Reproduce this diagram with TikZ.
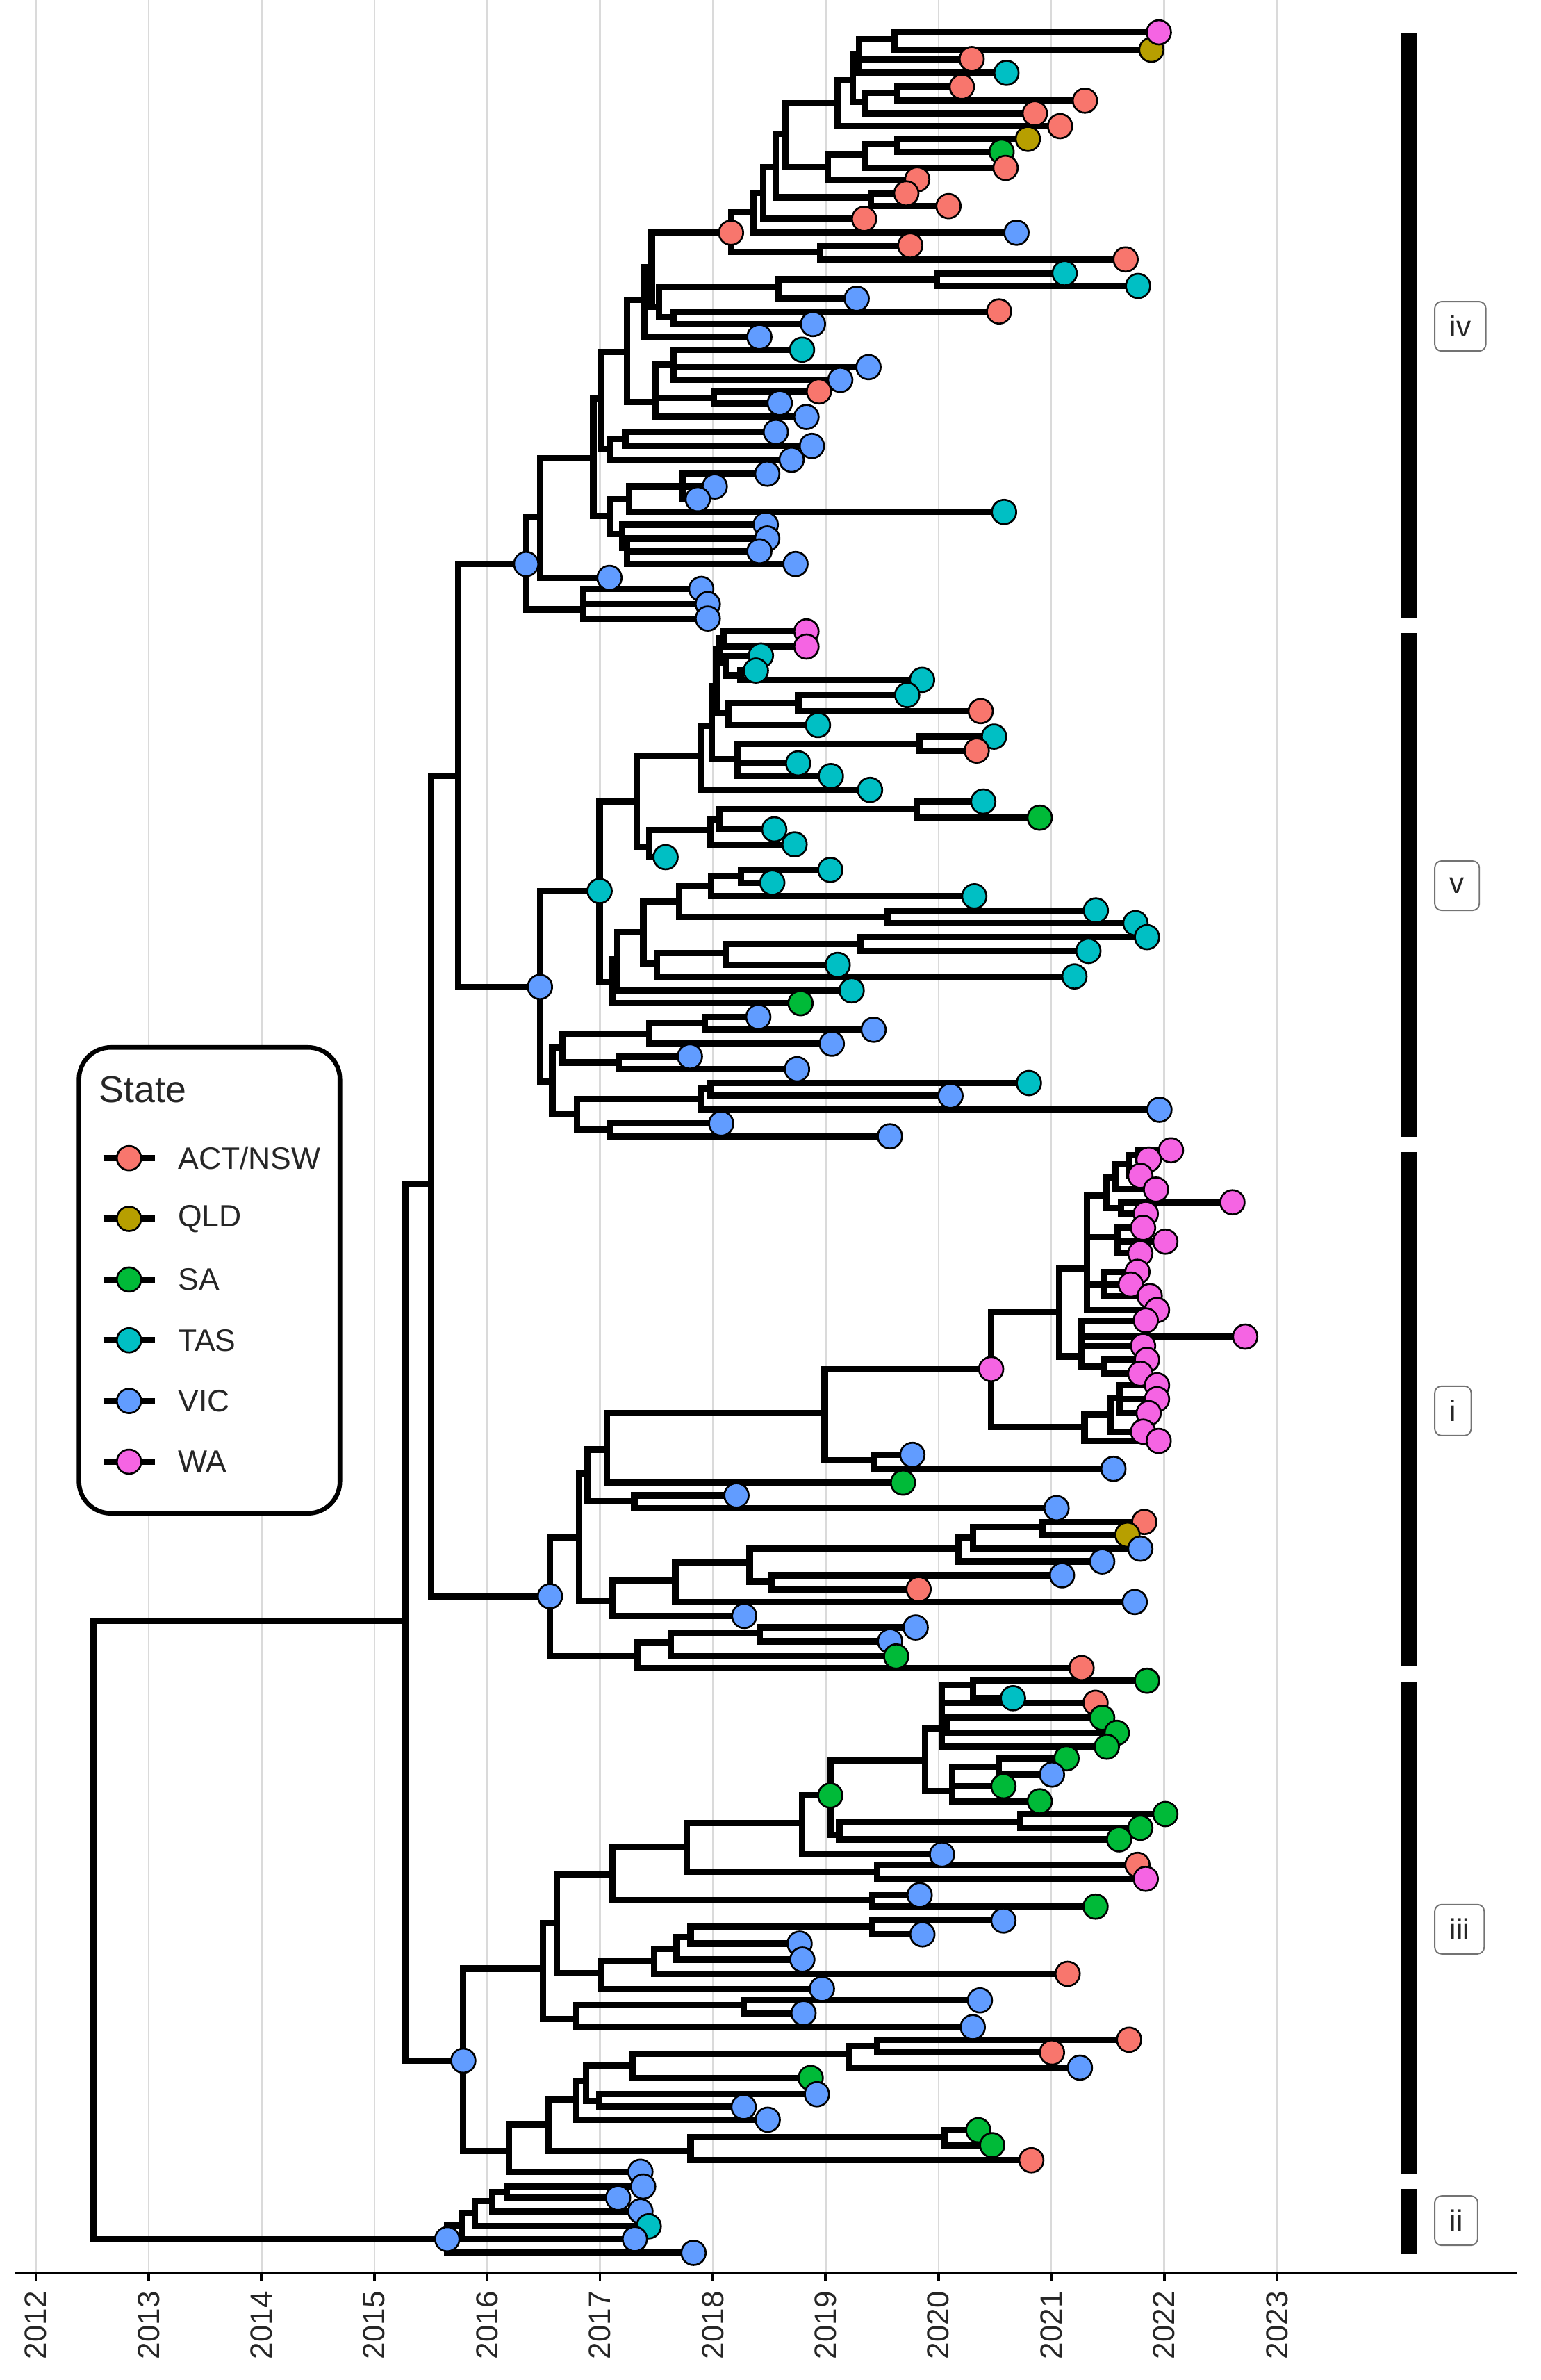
\documentclass[tikz,border=0pt]{standalone}
\usepackage{fontspec}
\setmainfont{Liberation Sans}
\pgfdeclarelayer{front}
\pgfsetlayers{main,front}
\definecolor{cACT}{HTML}{F8766D}
\definecolor{cQLD}{HTML}{B79F00}
\definecolor{cSA}{HTML}{00BA38}
\definecolor{cTAS}{HTML}{00BFC4}
\definecolor{cVIC}{HTML}{619CFF}
\definecolor{cWA}{HTML}{F564E3}
\definecolor{gridc}{HTML}{DADADA}
\tikzset{
  br/.style={line width=2.4pt, black},
  dot/.style={circle, draw=black, line width=0.7pt, minimum size=0.32cm, inner sep=0pt},
  gridl/.style={draw=gridc, line width=0.6pt},
  axisl/.style={line width=1pt, black},
  yearlab/.style={rotate=90, anchor=east, inner sep=0pt, text=black!85, font=\fontsize{11.5}{13}\selectfont},
  legtext/.style={anchor=west, inner sep=0pt, text=black!85, font=\fontsize{11.6}{14}\selectfont},
  cladelab/.style={anchor=west, draw=black!55, line width=0.5pt, rounded corners=2.5pt, inner xsep=5.6pt, inner ysep=0pt, minimum height=18.5pt, text=black!85, font=\fontsize{11}{13}\selectfont},
}
\newcommand\trn[4]{\coordinate (#1) at (#3,-#4); \draw[br] (#2) |- (#1);}
\newcommand\trt[5]{\coordinate (#1) at (#3,-#4); \draw[br] (#2) |- (#1); \begin{pgfonlayer}{front}\node[dot,fill=#5] (#1d) at (#1) {};\end{pgfonlayer}}
\newcommand\legitem[4]{\draw[br] (68,-#4) -- (102,-#4); \node[dot,fill=#2] (lk#1) at (85,-#4) {}; \node[legtext] (ll#1) at (117,-#4) {#3};}
\begin{document}
\begin{tikzpicture}[x=0.02cm, y=0.02cm]
\useasboundingbox (0,0) rectangle (1015,-1568);
% grid, axis, years
\foreach \yr [count=\k from 0] in {2012,...,2023}{
  \pgfmathsetmacro\gx{23.6+74.35*\k}
  \draw[gridl] (\gx,0) -- (\gx,-1497.5);
  \draw[axisl] (\gx,-1497.5) -- (\gx,-1503);
  \node[yearlab] (yl\yr) at (\gx,-1509) {\yr};
}
\draw[axisl] (10,-1497.5) -- (1000,-1497.5);
% ---------------- tree ----------------
\coordinate (root) at (61.6,-1270);
\trn{q4}{root}{267}{1068}
\trn{q3}{q4}{283.9}{780}
\trn{q2}{q3}{301.9}{511.3}
% clade iv
\trt{ivB}{q2}{346.7}{371.6}{cVIC}
\trn{ivA}{ivB}{355.8}{341}
\trn{xx}{ivA}{391}{302}
\trn{xX}{xx}{396}{262.5}
\trn{vV}{xX}{413}{232}
\trn{p2}{vV}{424.5}{197.6}
\trn{pP}{p2}{429.4}{176}
\trt{nN}{pP}{481.7}{153.3}{cACT}
\trn{mM}{nN}{496.5}{140}
\trn{lL}{mM}{503}{127}
\trn{k2}{lL}{511.2}{110}
\trn{k1}{k2}{517.7}{88}
\trn{gG}{k1}{552}{68}
\trn{fF}{gG}{561.9}{53}
\trn{bB}{fF}{566}{36}
\trn{aA}{bB}{589.6}{26}
\trt{t2}{aA}{758.7}{32.8}{cQLD}
\trt{t1}{aA}{763.6}{21.3}{cWA}
\trt{t3}{bB}{640.3}{38.9}{cACT}
\trt{t4}{bB}{663.2}{48}{cTAS}
\trn{eE}{fF}{570}{67}
\trn{dD}{eE}{591.3}{61}
\trt{t5}{dD}{633.8}{57.2}{cACT}
\trt{t6}{dD}{714.9}{66.3}{cACT}
\trt{t7}{eE}{681.9}{74.7}{cACT}
\trt{t8}{gG}{698.5}{83.1}{cACT}
\trn{h3}{k1}{545.5}{110}
\trn{h2}{h3}{570}{102}
\trn{h1}{h2}{591.3}{95}
\trt{t9}{h1}{677.3}{91.5}{cQLD}
\trt{t10}{h1}{660}{100}{cSA}
\trt{t11}{h2}{662.6}{110.6}{cACT}
\trt{t12}{h3}{604.4}{118.2}{cACT}
\trn{i1}{k2}{574}{130}
\trt{t13}{i1}{597.2}{127.4}{cACT}
\trt{t14}{i1}{625}{135.8}{cACT}
\trt{t15}{lL}{569.4}{144.2}{cACT}
\trt{t16}{mM}{669.8}{153.3}{cVIC}
\trn{oO}{nN}{540.6}{166}
\trt{t17}{oO}{599.8}{161.7}{cACT}
\trt{t18}{oO}{741.7}{170.9}{cACT}
\trn{tT}{pP}{434.3}{202}
\trn{sS}{tT}{512.8}{189}
\trn{rR}{sS}{617.4}{184}
\trt{t19}{rR}{701.5}{180}{cTAS}
\trt{t20}{rR}{749.9}{188.4}{cTAS}
\trt{t21}{sS}{564.5}{196.8}{cVIC}
\trn{uU}{tT}{444}{209}
\trt{t22}{uU}{658.3}{205.2}{cACT}
\trt{t23}{uU}{535.7}{213.5}{cVIC}
\trt{t24}{p2}{500.4}{222}{cVIC}
\trn{w4}{vV}{432}{264.8}
\trn{w1}{w4}{444}{240}
\trt{t25}{w1}{528.5}{230.4}{cTAS}
\trt{t26}{w1}{572.3}{241.9}{cVIC}
\trt{t27}{w1}{553.7}{250.3}{cVIC}
\trn{w3}{w4}{470.3}{262}
\trt{t28}{w3}{539.6}{257.9}{cACT}
\trt{t29}{w3}{513.8}{265.5}{cVIC}
\trt{t30}{w4}{531.4}{274.7}{cVIC}
\trn{y2}{xX}{401.6}{296}
\trn{y1}{y2}{412}{289}
\trt{t31}{y1}{511.2}{284.6}{cVIC}
\trt{t32}{y1}{535}{293.8}{cVIC}
\trt{t33}{y2}{521.6}{302.9}{cVIC}
\trn{z3}{xx}{401.6}{340}
\trn{z2}{z3}{414.6}{328.9}
\trn{z1}{z2}{450}{320.5}
\trt{t34}{z1}{505.6}{312.1}{cVIC}
\trt{t35}{z1}{471}{320.5}{cVIC}
\trt{t36}{z1}{459.8}{328.9}{cVIC}
\trt{t37}{z2}{661.6}{337.3}{cTAS}
\trn{z4}{z3}{410}{352}
\trt{t38}{z4}{504.6}{345.6}{cVIC}
\trn{z5}{z4}{413}{361}
\trt{t39}{z5}{505.6}{354.8}{cVIC}
\trt{t40}{z5}{500.4}{363.2}{cVIC}
\trt{t41}{z5}{524.2}{371.6}{cVIC}
\trt{t42}{ivA}{401.6}{380.7}{cVIC}
\trn{ivC}{ivB}{384.5}{401.5}
\trt{t43}{ivC}{462.1}{388}{cVIC}
\trt{t44}{ivC}{466.4}{398}{cVIC}
\trt{t45}{ivC}{466.4}{407.5}{cVIC}
% clade v
\trt{vR}{q2}{355.8}{650.2}{cVIC}
\trt{a13}{vR}{395.1}{587}{cTAS}
\trn{a12}{a13}{419.6}{528}
\trn{a11}{a12}{462}{498}
\trn{a9}{a11}{469}{478}
\trn{a10}{a9}{472}{452}
\trn{a8}{a10}{474}{428}
\trn{a5}{a8}{477}{420.5}
\trt{t46}{a5}{531.4}{416}{cWA}
\trt{t47}{a5}{531.4}{426}{cWA}
\trn{a6}{a8}{478}{437}
\trt{t48}{a6}{501.4}{431.9}{cTAS}
\trn{a6b}{a6}{488}{445}
\trt{t49}{a6b}{498.1}{441.8}{cTAS}
\trt{t50}{a6b}{607.6}{447.9}{cTAS}
\trn{a4}{a10}{480}{470}
\trn{a3}{a4}{526}{463}
\trt{t51}{a3}{597.8}{457.9}{cTAS}
\trt{t52}{a3}{646.2}{468.5}{cACT}
\trt{t53}{a4}{539}{477.7}{cTAS}
\trn{a2}{a9}{486}{500}
\trn{a1}{a2}{606}{490}
\trt{t54}{a1}{655}{485.3}{cTAS}
\trt{t55}{a1}{643.6}{494.5}{cACT}
\trt{t56}{a2}{525.9}{502.9}{cTAS}
\trt{t57}{a2}{547.5}{511.3}{cTAS}
\trt{t58}{a11}{573.3}{520.4}{cTAS}
\trn{b4}{a12}{427.8}{558}
\trn{b1}{b4}{468}{547}
\trn{b3}{b1}{474}{540}
\trn{b2}{b3}{604}{533}
\trt{t59}{b2}{647.9}{528.1}{cTAS}
\trt{t60}{b2}{685.1}{538.7}{cSA}
\trt{t61}{b3}{510.2}{546.4}{cTAS}
\trt{t62}{b1}{523.6}{556.3}{cTAS}
\trt{t63}{b4}{438.6}{564.7}{cTAS}
\trn{c10}{a13}{403.6}{647}
\trn{c9}{c10}{406.9}{632}
\trn{c8}{c9}{423.9}{614}
\trn{c4}{c8}{447.4}{594}
\trn{c2}{c4}{468.6}{584}
\trn{c1}{c2}{488.4}{577}
\trt{t64}{c1}{547.1}{573.1}{cTAS}
\trt{t65}{c1}{508.9}{581.5}{cTAS}
\trt{t66}{c2}{642}{590.5}{cTAS}
\trn{c3}{c4}{584.7}{604}
\trt{t67}{c3}{722.1}{599.8}{cTAS}
\trt{t68}{c3}{748.2}{608.2}{cTAS}
\trn{c7}{c8}{433}{635}
\trn{c6}{c7}{478.2}{628}
\trn{c5}{c6}{566.8}{622}
\trt{t69}{c5}{755.8}{617.4}{cTAS}
\trt{t70}{c5}{717.2}{626.5}{cTAS}
\trt{t71}{c6}{552}{635.7}{cTAS}
\trt{t72}{c7}{708}{643.3}{cTAS}
\trt{t73}{c9}{561.2}{652.5}{cTAS}
\trt{t74}{c10}{527.5}{660.9}{cSA}
\trn{d5}{vR}{364}{712.8}
\trn{d4}{d5}{370.6}{690}
\trn{d2}{d4}{427.8}{681}
\trn{d1}{d2}{464.4}{674}
\trt{t75}{d1}{499.7}{670}{cVIC}
\trt{t76}{d1}{575.6}{678.4}{cVIC}
\trt{t77}{d2}{548.1}{687.6}{cVIC}
\trn{d3}{d4}{407.6}{700}
\trt{t78}{d3}{454.6}{696}{cVIC}
\trt{t79}{d3}{525.2}{704.4}{cVIC}
\trn{d6}{d5}{380.3}{734}
\trn{d8}{d6}{461.8}{724}
\trn{d7}{d8}{467.9}{717}
\trt{t80}{d7}{678}{713.5}{cTAS}
\trt{t81}{d7}{626.3}{721.9}{cVIC}
\trt{t82}{d8}{764}{731.1}{cVIC}
\trn{d9}{d6}{401.6}{744}
\trt{t83}{d9}{475.2}{740.2}{cVIC}
\trt{t84}{d9}{586.4}{748.6}{cVIC}
% clade i
\trt{iR}{q3}{362.4}{1051.6}{cVIC}
\trn{ig}{iR}{381.5}{1012.7}
\trn{iff}{ig}{387}{971}
\trn{id}{iff}{400}{955}
\trn{ia}{id}{543.4}{931}
\trt{waR}{ia}{653.1}{902}{cWA}
\trn{wu}{waR}{698}{864.6}
\trn{wu1}{wu}{716.4}{835.6}
\trn{x1}{wu1}{729.3}{787.5}
\trn{x1a}{x1}{734.8}{776}
\trn{x1c}{x1a}{744}{767}
\trn{x1d}{x1c}{749.5}{761}
\trt{t85}{x1d}{771.6}{757.8}{cWA}
\trt{t86}{x1d}{756.9}{763.9}{cWA}
\trt{t87}{x1c}{751.4}{774.6}{cWA}
\trt{t88}{x1a}{761.7}{783.7}{cWA}
\trn{x1b}{x1}{738.6}{796}
\trt{t89}{x1b}{812.1}{792.1}{cWA}
\trt{t90}{x1b}{755}{799.7}{cWA}
\trn{x2}{wu1}{736.6}{815}
\trt{t91}{x2}{753.2}{808.9}{cWA}
\trt{t92}{x2}{767.9}{818}{cWA}
\trt{t93}{x2}{751.4}{825.7}{cWA}
\trn{x3}{wu1}{727.4}{846}
\trt{t94}{x3}{749.5}{837.9}{cWA}
\trt{t95}{x3}{745.1}{846.3}{cWA}
\trt{t96}{x3}{757.6}{853.9}{cWA}
\trt{t97}{wu1}{762.4}{863.1}{cWA}
\trn{wu2}{wu}{712.7}{893.6}
\trt{t98}{wu2}{755}{869.9}{cWA}
\trt{t99}{wu2}{820.5}{880.6}{cWA}
\trt{t100}{wu2}{753.2}{886.7}{cWA}
\trn{yy1}{wu2}{727.4}{900}
\trt{t101}{yy1}{755.8}{895.9}{cWA}
\trt{t102}{yy1}{751.4}{905}{cWA}
\trn{wl}{waR}{714.6}{940}
\trn{yy2}{wl}{732}{932}
\trn{yy4}{yy2}{738}{921}
\trt{t103}{yy4}{762.4}{912.7}{cWA}
\trt{t104}{yy4}{762.4}{921.8}{cWA}
\trt{t105}{yy4}{756.9}{931}{cWA}
\trt{t106}{yy2}{753.2}{943.2}{cWA}
\trt{t107}{wl}{763.5}{949.3}{cWA}
\trn{ib}{ia}{576}{962}
\trt{t108}{ib}{601.2}{958.5}{cVIC}
\trt{t109}{ib}{733.7}{967.7}{cVIC}
\trt{t110}{id}{595}{976.8}{cSA}
\trn{ie}{iff}{418}{989}
\trt{t111}{ie}{485.3}{985.2}{cVIC}
\trt{t112}{ie}{696.2}{993.6}{cVIC}
\trn{ih}{ig}{403.6}{1054.6}
\trn{ii}{ih}{445}{1041}
\trn{ik}{ii}{494}{1029.5}
\trn{il}{ik}{631.8}{1020}
\trn{inn}{il}{641}{1013}
\trn{io}{inn}{687}{1006}
\trt{t113}{io}{754}{1002.7}{cACT}
\trt{t114}{io}{742.9}{1011.1}{cQLD}
\trt{t115}{inn}{751.4}{1020.3}{cVIC}
\trt{t116}{il}{726.3}{1028.7}{cVIC}
\trn{im}{ik}{508.6}{1042}
\trt{t117}{im}{699.8}{1037.8}{cVIC}
\trt{t118}{im}{605.3}{1047}{cACT}
\trt{t119}{ii}{747.7}{1055.4}{cVIC}
\trt{t120}{ih}{490.4}{1064.6}{cVIC}
\trn{ij}{iR}{420}{1091.3}
\trn{ip}{ij}{442}{1082}
\trn{iq}{ip}{500.6}{1075.5}
\trt{t121}{iq}{603.4}{1072.2}{cVIC}
\trt{t122}{iq}{586.5}{1081.3}{cVIC}
\trt{t123}{ip}{590.5}{1091.3}{cSA}
\trt{t124}{ij}{712.7}{1098.9}{cACT}
% clade iii
\trt{iiiR}{q4}{305.3}{1357.6}{cVIC}
\trn{kz}{iiiR}{357.6}{1297}
\trn{jo}{kz}{366.8}{1266.8}
\trn{jm}{jo}{403.6}{1234.7}
\trn{jk}{jm}{452.7}{1217.2}
\trn{jj}{jk}{528.5}{1201}
\trt{jg}{jj}{547.1}{1182.9}{cSA}
\trn{jd}{jg}{609.7}{1160}
\trn{jb}{jd}{620.7}{1138.6}
\trn{ja}{jb}{641}{1110}
\trt{t125}{ja}{755.8}{1107.3}{cSA}
\trt{t126}{ja}{667.5}{1118.8}{cTAS}
\trt{t127}{jb}{721.9}{1121.8}{cACT}
\trn{jc}{jb}{624}{1137}
\trt{t128}{jc}{726.3}{1131.7}{cSA}
\trt{t129}{jc}{735.9}{1141.6}{cSA}
\trt{t130}{jb}{729.3}{1150.8}{cSA}
\trn{je}{jd}{627.3}{1180}
\trn{jf}{je}{658}{1164}
\trt{t131}{jf}{702.8}{1158.4}{cSA}
\trt{t132}{jf}{693.2}{1169.1}{cVIC}
\trt{t133}{je}{661.2}{1176.8}{cSA}
\trt{t134}{je}{685.1}{1186.7}{cSA}
\trn{jh}{jg}{553}{1208.8}
\trn{ji}{jh}{672.4}{1200}
\trt{t135}{ji}{767.9}{1195.1}{cSA}
\trt{t136}{ji}{751.4}{1204.2}{cSA}
\trt{t137}{jh}{737.4}{1211.8}{cSA}
\trt{t138}{jj}{620.7}{1221.8}{cVIC}
\trn{jl}{jk}{577.8}{1233}
\trt{t139}{jl}{749.5}{1228.6}{cACT}
\trt{t140}{jl}{755}{1237.8}{cWA}
\trn{jn}{jm}{574.7}{1252}
\trt{t141}{jn}{606}{1248.5}{cVIC}
\trt{t142}{jn}{721.9}{1256.1}{cSA}
\trn{ju}{jo}{396.2}{1300}
\trn{jt}{ju}{431.2}{1292}
\trn{jq}{jt}{445.9}{1284}
\trn{js}{jq}{455.1}{1276}
\trn{jp}{js}{574.7}{1269.5}
\trt{t143}{jp}{661.2}{1265.3}{cVIC}
\trt{t144}{jp}{607.8}{1274.4}{cVIC}
\trt{t145}{js}{526.9}{1280.5}{cVIC}
\trt{t146}{jq}{528.7}{1291}{cVIC}
\trt{t147}{jt}{703.5}{1300.4}{cACT}
\trt{t148}{ju}{541.6}{1310.3}{cVIC}
\trn{kv}{kz}{379.7}{1330}
\trn{kw}{kv}{490}{1321}
\trt{t149}{kw}{645.7}{1317.9}{cVIC}
\trt{t150}{kw}{529.5}{1326.3}{cVIC}
\trt{t151}{kv}{641}{1335.5}{cVIC}
\trn{l0}{iiiR}{335.5}{1417}
\trn{l1}{l0}{361.3}{1399.5}
\trn{l2}{l1}{379.7}{1383.5}
\trn{l5}{l2}{386.3}{1371}
\trn{l6}{l5}{416.6}{1361}
\trn{l8}{l6}{559.8}{1353}
\trn{l9}{l8}{577.8}{1348}
\trt{t152}{l9}{744}{1343.8}{cACT}
\trt{t153}{l9}{693.2}{1352.2}{cACT}
\trt{t154}{l8}{711.6}{1362.2}{cVIC}
\trt{t155}{l6}{534.2}{1369}{cSA}
\trn{l7}{l5}{394.8}{1384}
\trt{t156}{l7}{538.3}{1379.7}{cVIC}
\trt{t157}{l7}{490}{1388.1}{cVIC}
\trt{t158}{l2}{505.9}{1396.5}{cVIC}
\trn{l3}{l1}{455.1}{1417}
\trn{l4}{l3}{622.6}{1408}
\trt{t159}{l4}{644.6}{1403.4}{cSA}
\trt{t160}{l4}{653.8}{1413.3}{cSA}
\trt{t161}{l3}{679.6}{1423.2}{cACT}
\trt{t162}{l0}{422}{1430.8}{cVIC}
% clade ii
\trt{iiR}{root}{294.7}{1475.2}{cVIC}
\trn{iiB}{iiR}{304.2}{1466}
\trn{iiC}{iiB}{313}{1458}
\trn{iiD}{iiC}{324.5}{1450}
\trn{iiE}{iiD}{334}{1444}
\trt{t163}{iiE}{423.8}{1440.5}{cVIC}
\trt{t164}{iiE}{407.3}{1448}{cVIC}
\trt{t165}{iiD}{422}{1456.8}{cVIC}
\trt{t166}{iiC}{427.5}{1466.7}{cTAS}
\trt{t167}{iiB}{418.3}{1475.1}{cVIC}
\trt{t168}{iiR}{457}{1484.2}{cVIC}
% ---------------- legend ----------------
\node[draw=black, fill=white, line width=1.7pt, rounded corners=0.42cm, minimum width=3.44cm, minimum height=6.14cm, inner sep=0pt] (legend) at (138,-843.5) {};
\node[anchor=west, inner sep=0pt, text=black!85, font=\fontsize{14}{16}\selectfont] (legtitle) at (65,-718) {State};
\legitem{1}{cACT}{ACT/NSW}{763}
\legitem{2}{cQLD}{QLD}{803}
\legitem{3}{cSA}{SA}{843}
\legitem{4}{cTAS}{TAS}{883}
\legitem{5}{cVIC}{VIC}{923}
\legitem{6}{cWA}{WA}{963}
% ---------------- clade bars ----------------
\fill[black] (923.4,-22) rectangle (934.1,-407);
\fill[black] (923.4,-417) rectangle (934.1,-749);
\fill[black] (923.4,-759) rectangle (934.1,-1098);
\fill[black] (923.4,-1108) rectangle (934.1,-1432);
\fill[black] (923.4,-1442) rectangle (934.1,-1485);
\node[cladelab] (labiv) at (945,-215) {iv};
\node[cladelab] (labv) at (945,-583.5) {v};
\node[cladelab] (labi) at (945,-929.5) {i};
\node[cladelab] (labiii) at (945,-1271) {iii};
\node[cladelab] (labii) at (945,-1463) {ii};
\end{tikzpicture}
\end{document}
